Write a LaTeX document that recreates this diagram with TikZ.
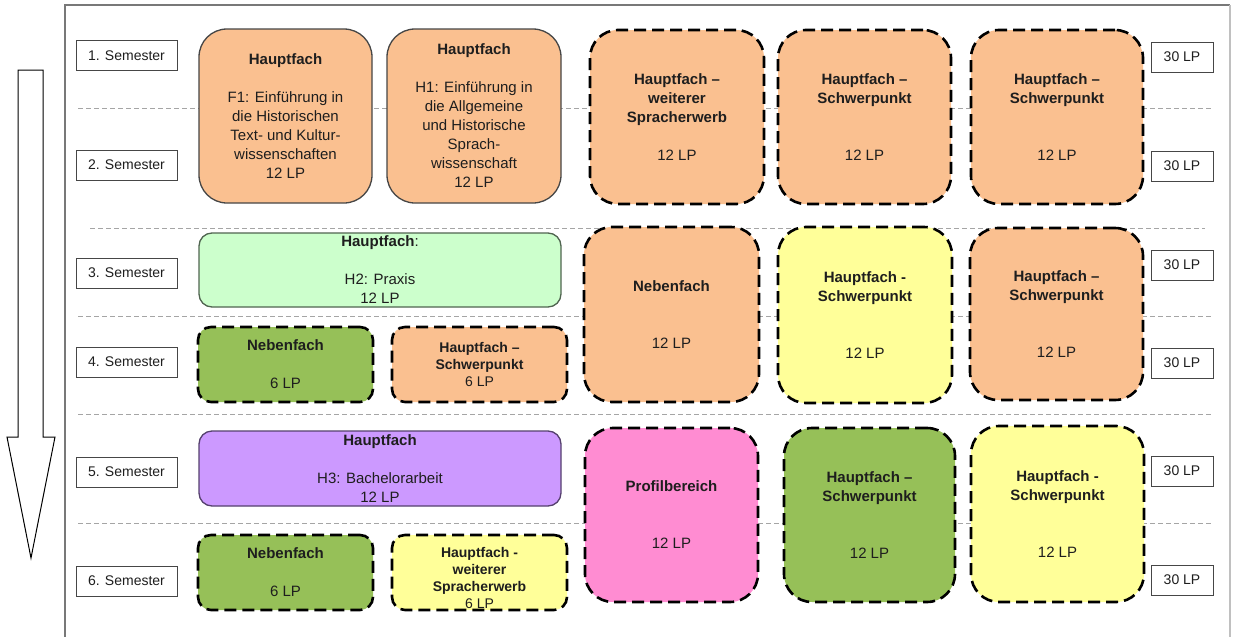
\documentclass[tikz,border=0pt]{standalone}
\usepackage{fontspec}
\setmainfont{Liberation Sans}
\definecolor{peach}{RGB}{250,192,144}
\definecolor{lgreen}{RGB}{204,255,204}
\definecolor{dgreen}{RGB}{150,192,88}
\definecolor{yel}{RGB}{255,255,153}
\definecolor{purp}{RGB}{204,153,255}
\definecolor{pink}{RGB}{255,140,210}
\definecolor{txt}{RGB}{30,30,30}
\definecolor{bord}{RGB}{70,70,70}
\definecolor{gline}{RGB}{165,165,165}
\definecolor{frame}{RGB}{120,120,120}
\begin{document}
\begin{tikzpicture}[x=1pt,y=-1pt,
  bigbox/.style={rounded corners=28pt, inner sep=0pt, align=center, text=txt,
     font=\fontsize{15}{19}\selectfont},
  smallbox/.style={rounded corners=13pt, inner sep=0pt, align=center, text=txt,
     font=\fontsize{15}{19}\selectfont},
  solidb/.style={draw=bord, line width=1.3pt},
  dashb/.style={draw=black, line width=2.6pt, dash pattern=on 12pt off 6pt},
  sem/.style={draw=bord, line width=1pt, fill=white, minimum width=101pt,
     minimum height=30pt, inner sep=0pt, text=txt, font=\fontsize{14}{16}\selectfont},
  lp/.style={draw=bord, line width=1pt, fill=white, minimum width=62pt,
     minimum height=30pt, inner sep=0pt, text=txt, font=\fontsize{14}{16}\selectfont},
  sepline/.style={draw=gline, line width=1pt, dash pattern=on 5pt off 3pt},
  lbl/.style={align=center, text=txt, inner sep=0pt}
]
\useasboundingbox (0,0) rectangle (1237,637);
\fill[white] (0,0) rectangle (1237,637);
% frame
\draw[frame, line width=2pt] (65,640) -- (65,5) -- (1230,5);
\draw[gline!70, line width=1.5pt] (1230,5) -- (1230,640);
% big arrow
\draw[black, line width=1pt, fill=white]
  (18,70) -- (43,70) -- (43,437) -- (55,437) -- (31,558) -- (7,437) -- (18,437) -- cycle;
% semester separator lines
\coordinate (l1a) at (78,108);  \coordinate (l1b) at (1213,108);
\coordinate (l2a) at (90,228);  \coordinate (l2b) at (1205,228);
\coordinate (l3a) at (78,316);  \coordinate (l3b) at (1213,316);
\coordinate (l4a) at (78,414);  \coordinate (l4b) at (1213,414);
\coordinate (l5a) at (78,523);  \coordinate (l5b) at (1213,523);
\draw[sepline] (l1a) -- (l1b);
\draw[sepline] (l2a) -- (l2b);
\draw[sepline] (l3a) -- (l3b);
\draw[sepline] (l4a) -- (l4b);
\draw[sepline] (l5a) -- (l5b);
% semester labels
\node[sem] (s1) at (126.5,55.5) {1. Semester};
\node[sem] (s2) at (126.5,165) {2. Semester};
\node[sem] (s3) at (126.5,273) {3. Semester};
\node[sem] (s4) at (126.5,362) {4. Semester};
\node[sem] (s5) at (126.5,472) {5. Semester};
\node[sem] (s6) at (126.5,581) {6. Semester};
% 30 LP
\node[lp] (p1) at (1182,57) {30 LP};
\node[lp] (p2) at (1182,166) {30 LP};
\node[lp] (p3) at (1182,265) {30 LP};
\node[lp] (p4) at (1182,363) {30 LP};
\node[lp] (p5) at (1182,471) {30 LP};
\node[lp] (p6) at (1182,580) {30 LP};
% semesters 1-2
\node[bigbox, solidb, fill=peach, minimum width=173pt, minimum height=174pt] (f1) at (285.5,116)
  {\textbf{Hauptfach}\\[19pt]F1: Einführung in\\die Historischen\\Text- und Kultur-\\wissenschaften\\12 LP};
\node[bigbox, solidb, fill=peach, minimum width=174pt, minimum height=174pt] (h1) at (474,116)
  {\textbf{Hauptfach}\\[19pt]H1: Einführung in\\die Allgemeine\\und Historische\\Sprach-\\wissenschaft\\12 LP};
\node[bigbox, dashb, fill=peach, minimum width=174pt, minimum height=174pt] (spr) at (677,117)
  {\textbf{Hauptfach –}\\\textbf{weiterer}\\\textbf{Spracherwerb}\\[19pt]12 LP};
\node[bigbox, dashb, fill=peach, minimum width=173pt, minimum height=174pt] (sa) at (864.5,117)
  {\textbf{Hauptfach –}\\\textbf{Schwerpunkt}\\[38pt]12 LP};
\node[bigbox, dashb, fill=peach, minimum width=172pt, minimum height=174pt] (sb) at (1057,117)
  {\textbf{Hauptfach –}\\\textbf{Schwerpunkt}\\[38pt]12 LP};
% semesters 3-4
\node[smallbox, solidb, draw={rgb,255:red,80;green,100;blue,80}, fill=lgreen, minimum width=362pt, minimum height=74pt] (h2) at (380,270)
  {\textbf{Hauptfach}:\\[19pt]H2: Praxis\\12 LP};
\node[smallbox, dashb, fill=dgreen, minimum width=175pt, minimum height=75pt] (na) at (285.5,364.5)
  {\textbf{Nebenfach}\\[19pt]6 LP};
\node[smallbox, dashb, fill=peach, minimum width=175pt, minimum height=75pt,
  font=\fontsize{14}{17}\selectfont] (sc) at (479.5,364.5)
  {\textbf{Hauptfach –}\\\textbf{Schwerpunkt}\\6 LP};
\node[bigbox, dashb, fill=peach, minimum width=175pt, minimum height=175pt] (nb) at (671.5,314.5)
  {\textbf{Nebenfach}\\[38pt]12 LP};
\node[bigbox, dashb, fill=yel, minimum width=174pt, minimum height=176pt] (ya) at (865,315)
  {\textbf{Hauptfach -}\\\textbf{Schwerpunkt}\\[38pt]12 LP};
\node[bigbox, dashb, fill=peach, minimum width=173pt, minimum height=172pt] (sd) at (1056.5,314)
  {\textbf{Hauptfach –}\\\textbf{Schwerpunkt}\\[38pt]12 LP};
% semesters 5-6
\node[smallbox, solidb, draw={rgb,255:red,85;green,65;blue,110}, fill=purp, minimum width=362pt, minimum height=75pt] (h3) at (380,468.5)
  {\textbf{Hauptfach}\\[19pt]H3: Bachelorarbeit\\12 LP};
\node[smallbox, dashb, fill=dgreen, minimum width=175pt, minimum height=75pt] (nc) at (285.5,572.5)
  {\textbf{Nebenfach}\\[19pt]6 LP};
\node[smallbox, dashb, fill=yel, minimum width=175pt, minimum height=75pt,
  label={[lbl, font=\fontsize{14}{17}\selectfont, yshift=-5pt]center:{\textbf{Hauptfach -}\\\textbf{weiterer}\\\textbf{Spracherwerb}\\6 LP}}] (yb) at (479.5,572.5) {};
\node[bigbox, dashb, fill=pink, minimum width=173pt, minimum height=174pt] (prof) at (671.5,515)
  {\textbf{Profilbereich}\\[38pt]12 LP};
\node[bigbox, dashb, fill=dgreen, minimum width=171pt, minimum height=174pt] (se) at (869.5,515)
  {\textbf{Hauptfach –}\\\textbf{Schwerpunkt}\\[38pt]12 LP};
\node[bigbox, dashb, fill=yel, minimum width=173pt, minimum height=176pt] (yc) at (1057.5,514)
  {\textbf{Hauptfach -}\\\textbf{Schwerpunkt}\\[38pt]12 LP};
\end{tikzpicture}
\end{document}
